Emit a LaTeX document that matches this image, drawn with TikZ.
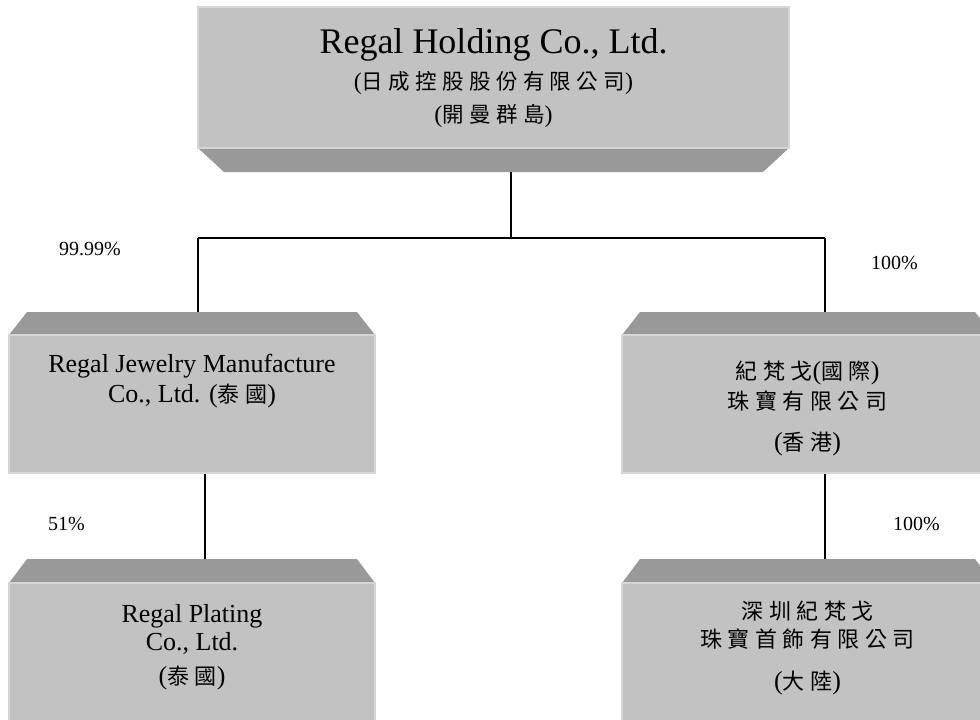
\documentclass[tikz,border=0pt]{standalone}
\usepackage{fontspec}
\setmainfont{Liberation Serif}
\newfontfamily\cjk{Noto Sans CJK TC}[LetterSpace=25]
\usetikzlibrary{backgrounds}
\definecolor{boxlight}{RGB}{194,194,194}
\definecolor{boxdark}{RGB}{153,153,153}
\definecolor{boxedge}{RGB}{214,214,214}
\newcommand\zh[1]{{\cjk #1}}
\begin{document}
\begin{tikzpicture}[x=1pt,y=-1pt,
  face/.style={rectangle, fill=boxlight, draw=boxedge, line width=1.2pt, inner sep=0pt, outer sep=0pt},
  bevel/.style={fill=boxdark},
  txt/.style={inner sep=0pt, anchor=base},
  big/.style={font=\fontsize{36}{40}\selectfont},
  mid/.style={font=\fontsize{26}{30}\selectfont},
  cjkline/.style={font=\fontsize{22}{26}\selectfont},
  cjktop/.style={font=\fontsize{21.5}{25}\selectfont},
  pct/.style={font=\fontsize{20}{24}\selectfont, inner sep=0pt, anchor=base west},
  link/.style={draw=black, line width=1.3pt}]
\useasboundingbox (0,0) rectangle (980,720);

% top box
\node[face, minimum width=591pt, minimum height=141pt] (top) at (493.5,77.5) {};
\node[txt, big] (ta1) at (493.5,53) {Regal Holding Co., Ltd.};
\node[txt, cjktop] (ta2) at (493.5,89.5) {{\fontsize{24}{28}\selectfont(}\zh{日成控股股份有限公司}{\fontsize{24}{28}\selectfont)}};
\node[txt, cjktop] (ta3) at (493.5,122) {{\fontsize{24}{28}\selectfont(}\zh{開曼群島}{\fontsize{24}{28}\selectfont)}};

% left middle box
\node[face, minimum width=366pt, minimum height=138pt] (lm) at (192,404) {};
\node[txt, mid] (lb1) at (192,372) {Regal Jewelry Manufacture};
\node[txt, mid] (lb2) at (192,402) {Co., Ltd. (\zh{\fontsize{22}{26}\selectfont 泰國})};

% right middle box
\node[face, minimum width=371pt, minimum height=138pt] (rm) at (807.5,404) {};
\node[txt, cjkline] (rb1) at (807.5,379.5) {\zh{紀梵戈}{\fontsize{26}{30}\selectfont(}\zh{國際}{\fontsize{26}{30}\selectfont)}};
\node[txt, cjkline] (rb2) at (807.5,409.5) {\zh{珠寶有限公司}};
\node[txt, cjkline] (rb3) at (807.5,450.5) {{\fontsize{26}{30}\selectfont(}\zh{香港}{\fontsize{26}{30}\selectfont)}};

% left bottom box
\node[face, minimum width=366pt, minimum height=157pt] (lbx) at (192,661.5) {};
\node[txt, mid] (lc1) at (192,622) {Regal Plating};
\node[txt, mid] (lc2) at (192,650) {Co., Ltd.};
\node[txt, mid] (lc3) at (192,684.5) {(\zh{\fontsize{22}{26}\selectfont 泰國})};

% right bottom box
\node[face, minimum width=371pt, minimum height=157pt] (rbx) at (807.5,661.5) {};
\node[txt, cjkline] (rc1) at (807.5,619.5) {\zh{深圳紀梵戈}};
\node[txt, cjkline] (rc2) at (807.5,647.5) {\zh{珠寶首飾有限公司}};
\node[txt, cjkline] (rc3) at (807.5,689.5) {{\fontsize{26}{30}\selectfont(}\zh{大陸}{\fontsize{26}{30}\selectfont)}};

% percentages
\node[pct] (p1) at (59,255) {99.99\%};
\node[pct] (p2) at (871,269) {100\%};
\node[pct] (p3) at (48,530) {51\%};
\node[pct] (p4) at (893,530) {100\%};

% connectors and bevels (behind the box faces)
\coordinate (jt) at (511,238);
\coordinate (jl) at (198,238);
\coordinate (jr) at (825,238);
\coordinate (lx) at (205,500);
\coordinate (rx) at (825,500);
\begin{scope}[on background layer]
\fill[white] (0,0) rectangle (980,720);
\draw[link] (jt |- top.south) -- (jt);
\draw[link] (jl) -- (jr);
\draw[link] (jl) -- (jl |- lm.north);
\draw[link] (jr) -- (jr |- rm.north);
\draw[link] (lx |- lm.south) -- (lx |- lbx.north);
\draw[link] (rx |- rm.south) -- (rx |- rbx.north);
\fill[bevel] (top.south west) -- (top.south east) -- ++(-26,24) -- ++(-539,0) -- cycle;
\fill[bevel] (lm.north west) -- ++(18,-23) -- ++(330,0) -- (lm.north east) -- cycle;
\fill[bevel] (rm.north west) -- ++(18,-23) -- ++(335,0) -- (rm.north east) -- cycle;
\fill[bevel] (lbx.north west) -- ++(18,-24) -- ++(330,0) -- (lbx.north east) -- cycle;
\fill[bevel] (rbx.north west) -- ++(18,-24) -- ++(335,0) -- (rbx.north east) -- cycle;
\end{scope}
\end{tikzpicture}
\end{document}
